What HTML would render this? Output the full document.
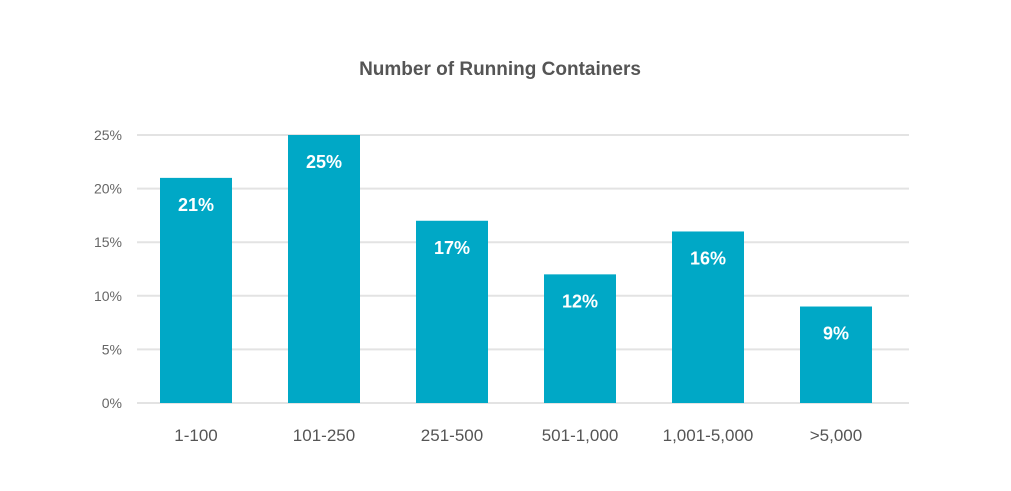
<!DOCTYPE html>
<html><head><meta charset="utf-8"><style>
body{margin:0;background:#fff;}
svg{display:block;font-family:"Liberation Sans",sans-serif;}
</style></head><body>
<svg id="chart" width="1011" height="491">
<text x="500" y="75" text-anchor="middle" font-size="19" font-weight="bold" fill="#555">Number of Running Containers</text>
<g id="grid"></g><g id="bars"></g>
</svg>
<script>
const categories = ["1-100","101-250","251-500","501-1,000","1,001-5,000",">5,000"];
const values = [21,25,17,12,16,9];
const yTicks = [0,5,10,15,20,25];
const ns="http://www.w3.org/2000/svg";
const y0=403, pxPer=10.72, x0=196, step=128, bw=72;
const y=v=>y0-v*pxPer, x=i=>x0+i*step;
function mk(t,a,p){const e=document.createElementNS(ns,t);for(const k in a)e.setAttribute(k,a[k]);p.appendChild(e);return e;}
const g=document.getElementById('grid'), b=document.getElementById('bars');
yTicks.forEach(t=>{
  const l=mk('line',{x1:137,x2:909,y1:y(t),y2:y(t),stroke:'#e3e3e3','stroke-width':2},g);
  
  
  const tx=mk('text',{x:122,y:y(t)+5,'text-anchor':'end','font-size':14,fill:'#666'},g);
  tx.textContent=t+'%';
  
  
});
categories.forEach((c,i)=>{
  const r=mk('rect',{x:x(i)-bw/2,y:y(values[i]),width:bw,height:y0-y(values[i]),fill:'#00a8c6'},b);
  
  
  const v=mk('text',{x:x(i),y:y(values[i])+33,'text-anchor':'middle','font-size':18,'font-weight':'bold',fill:'#fff'},b);
  v.textContent=values[i]+'%';
  
  
  const xl=mk('text',{x:x(i),y:441,'text-anchor':'middle','font-size':17,fill:'#555'},b);
  xl.textContent=c;
  
  
});
</script>
</body></html>
